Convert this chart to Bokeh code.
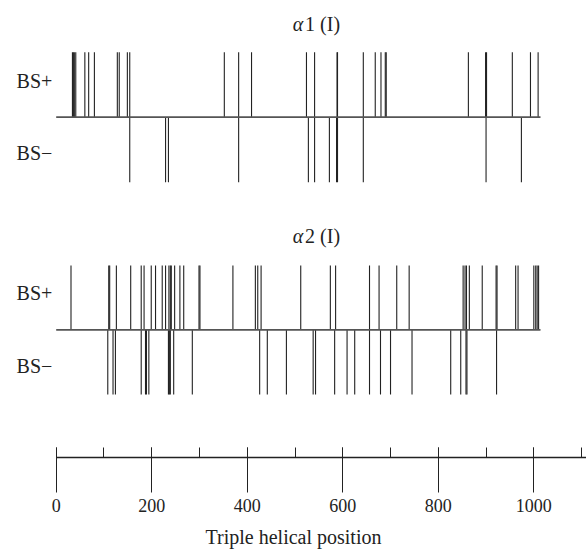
from bokeh.plotting import figure
from bokeh.models import Range1d, Label, SingleIntervalTicker
from bokeh.embed import file_html
from bokeh.resources import INLINE

# Positions (triple helical position) of binding-site marks
a1_up = [34, 36, 38, 41, 60, 68, 80, 128, 132, 149, 154, 352, 382, 409,
         524, 541, 588, 589, 643, 668, 680, 689, 691, 863, 899, 901, 955, 993, 1009]
a1_down = [154, 229, 235, 382, 528, 541, 572, 587, 589, 643, 900, 974]

a2_up = [31, 110, 112, 126, 156, 178, 184, 199, 208, 222, 229, 236, 239, 241,
         248, 259, 267, 299, 301, 370, 417, 422, 429, 512, 574, 585, 656, 676,
         713, 739, 852, 856, 859, 865, 892, 921, 923, 962, 967, 1000, 1004, 1007, 1010]
a2_down = [108, 119, 124, 178, 187, 189, 194, 235, 237, 239, 246, 285, 426, 442,
           482, 538, 543, 583, 609, 625, 656, 679, 700, 745, 826, 847, 858, 860, 922]

panel_titles = ["1 (I)", "2 (I)"]
row_labels = ["BS+", "BS\u2212"]
baseline_extent = [0, 1014]
x_label = "Triple helical position"

FONT = "Liberation Serif"
INK = "#222222"

p = figure(width=586, height=552, x_range=Range1d(-116.6, 1110.3),
           y_range=Range1d(457, 0), output_backend="svg", toolbar_location=None,
           y_axis_location=None, min_border_left=0, min_border_right=0,
           min_border_top=0, min_border_bottom=95)
p.outline_line_color = None
p.grid.visible = False

# panel layout: (title y, top of up marks, baseline, bottom of down marks, BS+ y, BS- y)
panels = [
    (a1_up, a1_down, 23, 51.7, 116.7, 181.7, 80, 152.7),
    (a2_up, a2_down, 235, 265, 329.3, 394, 292.7, 365),
]

for i, (ups, downs, ty, ytop, ybase, ybot, yp, ym) in enumerate(panels):
    p.segment(x0=ups, y0=[ybase] * len(ups), x1=ups, y1=[ytop] * len(ups),
              line_color=INK, line_width=1.1)
    p.segment(x0=downs, y0=[ybase] * len(downs), x1=downs, y1=[ybot] * len(downs),
              line_color=INK, line_width=1.1)
    p.line(x=baseline_extent, y=[ybase, ybase], line_color="#555555", line_width=1.8)
    p.add_layout(Label(x=517, y=ty, text="\u03b1", text_font=FONT, text_font_size="20px",
                       text_font_style="italic", text_align="right",
                       text_baseline="middle", text_color=INK))
    p.add_layout(Label(x=517, y=ty, x_offset=2, text=panel_titles[i], text_font=FONT,
                       text_font_size="20px", text_align="left",
                       text_baseline="middle", text_color=INK))
    p.add_layout(Label(x=-83, y=yp, text=row_labels[0], text_font=FONT,
                       text_font_size="20px", text_align="left",
                       text_baseline="middle", text_color=INK))
    p.add_layout(Label(x=-83, y=ym, text=row_labels[1], text_font=FONT,
                       text_font_size="20px", text_align="left",
                       text_baseline="middle", text_color=INK))

ax = p.xaxis[0]
ax.ticker = SingleIntervalTicker(interval=200, num_minor_ticks=2)
ax.bounds = (0, 1110.3)
ax.major_tick_in = 10
ax.major_tick_out = 35
ax.minor_tick_in = 10
ax.minor_tick_out = 0
ax.axis_line_color = INK
ax.axis_line_width = 1.5
ax.major_tick_line_color = INK
ax.minor_tick_line_color = INK
ax.major_label_standoff = 6
ax.major_label_text_font = FONT
ax.major_label_text_font_size = "18px"
ax.major_label_text_color = INK
ax.axis_label = x_label
ax.axis_label_standoff = 11
ax.axis_label_text_font = FONT
ax.axis_label_text_font_size = "20px"
ax.axis_label_text_font_style = "normal"
ax.axis_label_text_color = INK

open("out.html", "w").write(file_html(p, INLINE))
